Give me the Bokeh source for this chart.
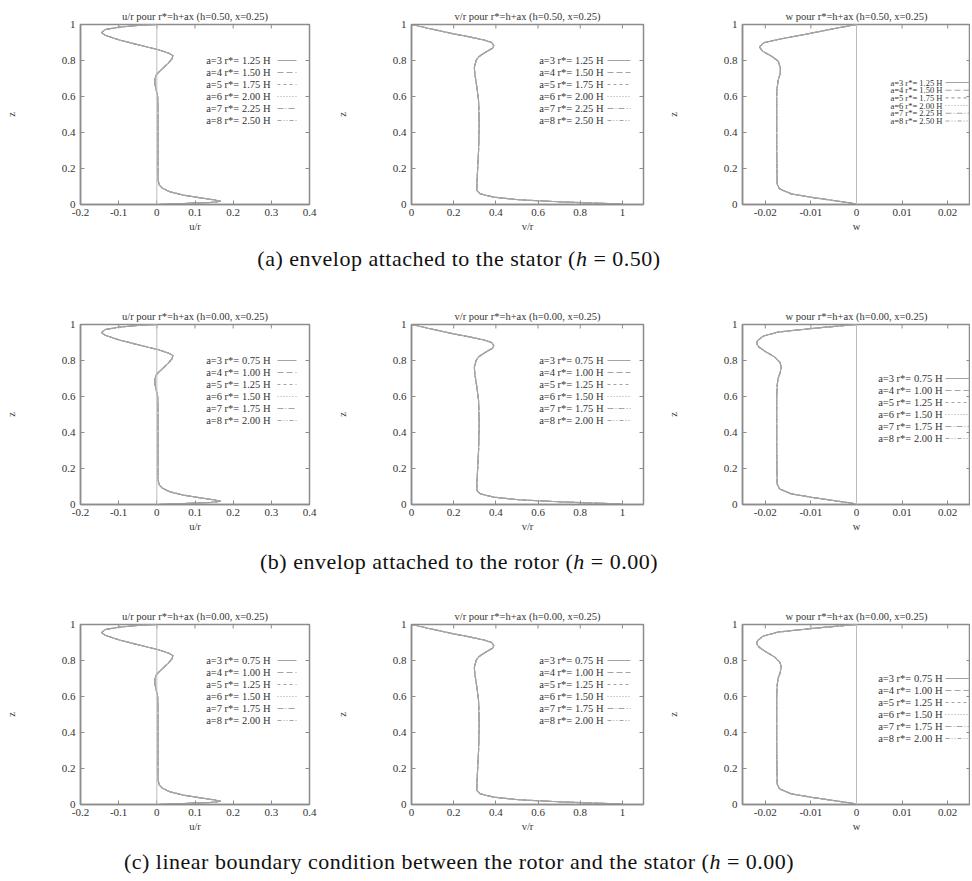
from bokeh.plotting import figure
from bokeh.models import FixedTicker, Span, Div, Range1d
from bokeh.layouts import column, row
from bokeh.embed import file_html
from bokeh.resources import INLINE
from bokeh.core.properties import value

# ---------------- data ----------------
Z_TICKS = [0, 0.2, 0.4, 0.6, 0.8, 1]
Z_TICK_LABELS = ["0", "0.2", "0.4", "0.6", "0.8", "1"]

U_TICKS = [-0.2, -0.1, 0, 0.1, 0.2, 0.3, 0.4]
U_TICK_LABELS = ["-0.2", "-0.1", "0", "0.1", "0.2", "0.3", "0.4"]
V_TICKS = [0, 0.2, 0.4, 0.6, 0.8, 1]
V_TICK_LABELS = ["0", "0.2", "0.4", "0.6", "0.8", "1"]
W_TICKS = [-0.02, -0.01, 0, 0.01, 0.02]
W_TICK_LABELS = ["-0.02", "-0.01", "0", "0.01", "0.02"]

# u/r profile (all six curves coincide)
Z_U = [1.0, 0.995, 0.985, 0.972, 0.955, 0.94, 0.915, 0.888, 0.862, 0.842, 0.828,
       0.81, 0.785, 0.755, 0.725, 0.70, 0.67, 0.64, 0.60, 0.55, 0.30, 0.14, 0.11,
       0.09, 0.07, 0.052, 0.038, 0.026, 0.018, 0.011, 0.006, 0.002, 0.0]
U_R = [0.0, -0.05, -0.10, -0.135, -0.145, -0.135, -0.10, -0.05, 0.0, 0.03, 0.042,
       0.04, 0.03, 0.015, 0.0, -0.005, -0.005, -0.002, 0.002, 0.003, 0.003, 0.003, 0.006,
       0.015, 0.035, 0.07, 0.11, 0.15, 0.168, 0.14, 0.08, 0.03, 0.0]

# v/r profile
Z_V = [1.0, 0.976, 0.948, 0.93, 0.915, 0.90, 0.883, 0.868, 0.856, 0.838, 0.82, 0.80,
       0.78, 0.763, 0.726, 0.652, 0.578, 0.45, 0.30, 0.115, 0.078, 0.059, 0.041, 0.026,
       0.017, 0.009, 0.004, 0.0]
V_R = [0.0, 0.09, 0.20, 0.28, 0.34, 0.38, 0.39, 0.385, 0.365, 0.34, 0.318, 0.306,
       0.302, 0.298, 0.30, 0.31, 0.318, 0.321, 0.318, 0.31, 0.31, 0.326, 0.39, 0.51,
       0.67, 0.83, 0.98, 1.0]

# w profile, envelop on the stator (row a)
Z_W_A = [1.0, 0.982, 0.945, 0.917, 0.899, 0.875, 0.852, 0.825, 0.797, 0.76, 0.732,
         0.686, 0.631, 0.483, 0.299, 0.114, 0.087, 0.059, 0.037, 0.018, 0.007, 0.0]
W_A = [0.0, -0.0039, -0.0113, -0.0172, -0.0203, -0.0213, -0.0206, -0.0187, -0.0172,
       -0.0167, -0.0167, -0.0172, -0.0175, -0.0175, -0.0175, -0.0174, -0.0169, -0.0143,
       -0.0091, -0.0039, -0.0009, 0.0]

# w profile, rows b and c
Z_W_B = [1.0, 0.98, 0.958, 0.935, 0.91, 0.893, 0.875, 0.85, 0.82, 0.79, 0.765, 0.735,
         0.70, 0.66, 0.60, 0.45, 0.30, 0.114, 0.087, 0.059, 0.037, 0.018, 0.007, 0.0]
W_B = [0.0, -0.009, -0.0172, -0.0205, -0.0217, -0.0219, -0.0214, -0.0200, -0.0180,
       -0.0168, -0.0165, -0.0167, -0.0172, -0.0174, -0.0175, -0.0175, -0.0175, -0.0174,
       -0.0169, -0.0143, -0.0091, -0.0039, -0.0009, 0.0]

A_VALUES = [3, 4, 5, 6, 7, 8]
RSTAR_A = ["1.25", "1.50", "1.75", "2.00", "2.25", "2.50"]
RSTAR_B = ["0.75", "1.00", "1.25", "1.50", "1.75", "2.00"]

H_ROWS = ["0.50", "0.00", "0.00"]
CAPTIONS = [
    "(a) envelop attached to the stator (<i>h</i> = 0.50)",
    "(b) envelop attached to the rotor (<i>h</i> = 0.00)",
    "(c) linear boundary condition between the rotor and the stator (<i>h</i> = 0.00)",
]

# ---------------- styling ----------------
FONT = "Liberation Serif"
TXT = "#333333"
AXC = "#8c8c8c"
CURVE = "#a4a4a4"
DASHES = ["solid", "6 3", "3 3", "1 2", "6 2 1 2", "4 2 1 2 1 2"]
FRAME_H = 180
TICK_PX = 4


def make_panel(title, xlabel, xr, xticks, xlabels, width, bl, br, top, zs, xs,
               labels, rows_px, text_end_px, sample_px, key_font, zero_line):
    fw = width - bl - br
    p = figure(width=width, height=top + FRAME_H + 34, x_range=Range1d(*xr),
               y_range=Range1d(0, 1), output_backend="svg", toolbar_location=None,
               min_border_left=bl, min_border_right=br,
               min_border_top=top, min_border_bottom=34)
    p.background_fill_color = "white"
    p.border_fill_color = "white"
    p.grid.visible = False
    p.outline_line_color = AXC
    p.outline_line_width = 1.5

    p.title.text = title
    p.title.align = "center"
    p.title.text_font = FONT
    p.title.text_font_size = "10.5px"
    p.title.text_font_style = "normal"
    p.title.text_color = TXT
    p.title.standoff = 5

    for ax in (p.xaxis[0], p.yaxis[0]):
        ax.axis_line_color = AXC
        ax.axis_line_width = 1.5
        ax.major_tick_line_color = AXC
        ax.major_tick_in = TICK_PX
        ax.major_tick_out = 0
        ax.minor_tick_line_color = None
        ax.major_label_text_font = FONT
        ax.major_label_text_color = TXT
        ax.major_label_text_font_size = "11px"
        ax.axis_label_text_font = FONT
        ax.axis_label_text_font_size = "10.5px"
        ax.axis_label_text_font_style = "normal"
        ax.axis_label_text_color = TXT

    xa = p.xaxis[0]
    xa.ticker = FixedTicker(ticks=xticks)
    xa.major_label_overrides = {t: l for t, l in zip(xticks, xlabels)}
    xa.major_label_standoff = 4
    xa.axis_label = xlabel
    xa.axis_label_standoff = 2

    ya = p.yaxis[0]
    ya.ticker = FixedTicker(ticks=Z_TICKS)
    ya.major_label_overrides = {t: l for t, l in zip(Z_TICKS, Z_TICK_LABELS)}
    ya.major_label_standoff = 5
    ya.axis_label = "z"
    ya.axis_label_standoff = 42

    def px2x(off):
        return xr[0] + off / fw * (xr[1] - xr[0])

    # mirrored inward ticks on the top and right borders (gnuplot style)
    dz = TICK_PX / FRAME_H
    p.segment(x0=xticks, y0=[1] * len(xticks), x1=xticks, y1=[1 - dz] * len(xticks),
              line_color=AXC, line_width=1)
    p.segment(x0=[xr[1]] * len(Z_TICKS), y0=Z_TICKS,
              x1=[px2x(fw - TICK_PX)] * len(Z_TICKS), y1=Z_TICKS,
              line_color=AXC, line_width=1)

    if zero_line:
        p.add_layout(Span(location=0, dimension="height", line_color="#bcbcbc",
                          line_width=1))

    for i in range(6):
        p.line(xs, zs, line_color=CURVE, line_width=1.1, line_dash=DASHES[i])

    # gnuplot-style key: right-aligned text followed by the line sample
    ys = [1 - r / FRAME_H for r in rows_px]
    p.text(x=[px2x(text_end_px)] * 6, y=ys, text=labels, text_align="right",
           text_baseline="middle", text_font=value(FONT), text_font_size=key_font,
           text_color=TXT)
    for i in range(6):
        p.line([px2x(sample_px[0]), px2x(sample_px[1])], [ys[i], ys[i]],
               line_color=CURVE, line_width=1.1, line_dash=DASHES[i])
    return p


blocks = []
for r, h in enumerate(H_ROWS):
    rst = RSTAR_A if r == 0 else RSTAR_B
    labels = ["a=%d r*= %s H" % (a, s) for a, s in zip(A_VALUES, rst)]
    rows_lm = [36, 48, 60, 72, 84, 96]
    rows_w = [58, 65.7, 73.4, 81, 88.8, 96.5] if r == 0 else [54, 66, 78, 90, 102, 114]
    wfont = "8.5px" if r == 0 else "10.5px"
    zw, ww = (Z_W_A, W_A) if r == 0 else (Z_W_B, W_B)
    top = 24 if r == 0 else 20
    pu = make_panel("u/r pour r*=h+ax (h=%s, x=0.25)" % h, "u/r", (-0.2, 0.4),
                    U_TICKS, U_TICK_LABELS, 320, 80, 11, top, Z_U, U_R,
                    labels, rows_lm, 190, (197, 216), "10.5px", True)
    pv = make_panel("v/r pour r*=h+ax (h=%s, x=0.25)" % h, "v/r", (0.0, 1.1),
                    V_TICKS, V_TICK_LABELS, 330, 91, 7, top, Z_V, V_R,
                    labels, rows_lm, 192, (196, 219), "10.5px", False)
    pw = make_panel("w pour r*=h+ax (h=%s, x=0.25)" % h, "w", (-0.025, 0.025),
                    W_TICKS, W_TICK_LABELS, 320, 92, 0, top, zw, ww,
                    labels, rows_w, 200, (203, 228), wfont, True)
    blocks.append(row(pu, pv, pw))
    pad = 9 if r == 0 else 12
    hgt = 66 if r < 2 else 36
    html = ('<div style="width:918px;text-align:center;font-family:\'%s\';'
            'font-size:22px;letter-spacing:0.5px;line-height:24px;padding-top:%dpx;'
            'color:#111;white-space:nowrap">%s</div>' % (FONT, pad, CAPTIONS[r]))
    blocks.append(Div(text=html, width=960, height=hgt, margin=(0, 0, 0, 0)))

layout = column(*blocks)
open("out.html", "w").write(file_html(layout, INLINE))
